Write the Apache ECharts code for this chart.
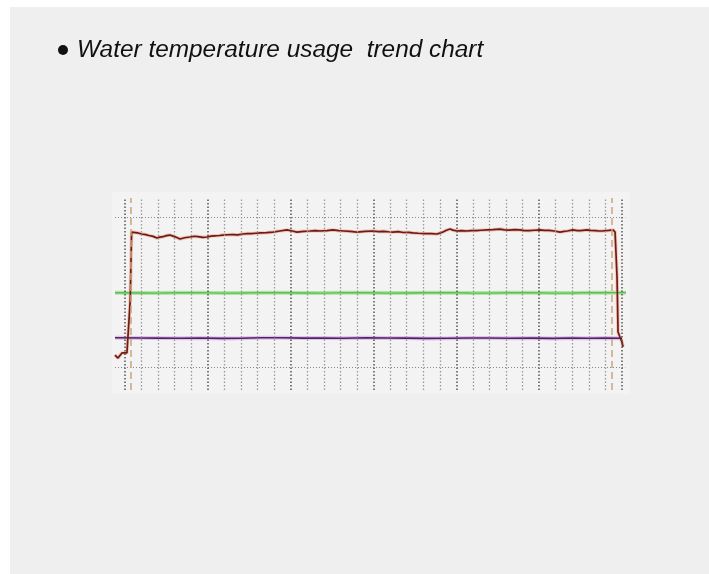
<!DOCTYPE html>
<html>
<head>
<meta charset="utf-8">
<script src="https://cdn.jsdelivr.net/npm/echarts@6/dist/echarts.min.js"></script>
<style>html,body{margin:0;padding:0;background:#fff;}#c{width:709px;height:574px;}</style>
</head>
<body>
<div id="c"></div>
<script>
// ---- data ----
var titleText = 'Water temperature usage  trend chart';
var tempX = [-0.60,-0.42,-0.18,-0.06,0.12,0.24,0.32,0.40,0.52,0.75,1.00,1.25,1.45,1.70,1.93,2.10,2.30,2.50,2.72,2.90,3.10,3.32,3.60,3.92,4.20,4.40,4.70,4.95,5.20,5.40,5.70,5.92,6.20,6.50,6.80,7.12,7.40,7.60,7.90,8.15,8.55,8.93,9.35,9.78,10.10,10.38,10.80,11.17,11.50,11.77,12.20,12.55,12.90,13.20,13.60,14.00,14.50,14.97,15.30,15.60,15.90,16.18,16.50,16.80,17.10,17.38,17.70,18.10,18.50,18.83,19.00,19.19,19.40,19.62,19.80,20.04,20.30,20.64,20.90,21.20,21.50,21.85,22.20,22.64,22.90,23.20,23.50,23.84,24.10,24.40,24.70,25.05,25.30,25.60,25.90,26.26,26.50,26.70,27.04,27.30,27.50,27.89,28.10,28.40,28.60,28.85,29.00,29.20,29.46,29.58,29.70,29.76,29.90,30.00,30.06];
var tempY = [8.3,6.3,9.7,10.3,9.7,10.3,45,90.3,90.6,89.8,89.0,88.6,88.0,87.4,86.3,86.9,87.2,87.9,88.3,87.6,86.8,85.7,86.5,87.0,87.5,87.3,86.8,87.0,87.6,87.8,88.0,88.3,88.5,88.6,88.4,89.0,89.3,89.2,89.5,89.7,89.9,90.3,91.0,91.7,91.0,90.3,90.8,91.0,91.3,91.0,91.3,91.7,91.2,91.0,90.7,90.3,90.8,91.0,90.6,90.8,90.5,90.3,90.6,90.0,90.1,89.7,89.5,89.3,89.2,89.0,89.6,90.3,91.5,92.3,91.6,91.0,91.2,91.0,91.3,91.3,91.5,91.7,91.9,92.3,91.8,91.6,91.9,91.7,91.3,91.2,91.5,91.7,91.4,91.4,91.0,90.3,90.7,91.0,91.7,91.3,91.2,91.7,91.4,91.2,91.0,91.0,91.2,91.4,91.7,90.3,60,23.7,19.5,17.0,13.7];
var flowX = [-0.60,1.0,2.0,3.3,4.5,5.8,7.0,8.2,9.5,10.8,12.0,13.2,14.5,15.8,17.0,18.2,19.5,20.8,22.0,23.2,24.5,25.8,27.0,28.0,29.0,30.24];
var flowY = [49.8,49.7,49.6,49.8,49.9,49.6,49.7,49.9,49.8,49.7,49.6,49.9,49.8,49.6,49.7,49.8,49.9,49.7,49.6,49.8,49.8,49.6,49.7,49.9,49.8,49.9];
var pressX = [-0.60,1.0,2.0,3.3,4.5,5.8,7.0,8.2,9.5,10.8,12.0,13.2,14.5,15.8,17.0,18.2,19.5,20.8,22.0,23.2,24.5,25.8,27.0,28.0,29.0,30.00];
var pressY = [19.8,19.7,19.6,19.5,19.7,19.4,19.5,19.8,19.8,19.6,19.7,19.5,19.8,19.7,19.6,19.4,19.5,19.7,19.7,19.5,19.6,19.4,19.7,19.5,19.6,19.5];
var hGridY = [0, 100];
var hGridX = [-0.6, 30.2];
var vGridMajor = [0, 5, 10, 15, 20, 25, 30];
var vGridMinor = [1,2,3,4,6,7,8,9,11,12,13,14,16,17,18,19,21,22,23,24,26,27,28,29];
var markerX = [0.36, 29.4];

function pairs(xs, ys){ return xs.map(function(x,i){ return [x, ys[i]]; }); }

var chart = echarts.init(document.getElementById('c'));
var series = [];
hGridY.forEach(function(v){
  series.push({type:'line', data: hGridX.map(function(x){return [x, v];}), symbol:'none', silent:true,
    lineStyle:{color:'#8a8a8a', width:1, type:[1,2]}, z:1});
});
function vLines(xs, color, w, dash){
  series.push({type:'line', data:[], symbol:'none', silent:true,
    markLine:{symbol:'none', silent:true, label:{show:false}, animation:false,
      lineStyle:{color:color, width:w, type:dash},
      data: xs.map(function(x){return {xAxis:x};})}});
}
vLines(vGridMinor, '#9a9a9a', 1.3, [1.5,2]);
vLines(vGridMajor, '#555555', 1.5, [1.5,2]);
vLines(markerX, '#c9a77a', 1.5, [7,4]);
function glowLine(xs, ys, dark, light, w, dw){
  series.push({type:'line', data:pairs(xs,ys), symbol:'none', silent:true,
    lineStyle:{color:light, width:w}, z:3});
  series.push({type:'line', data:pairs(xs,ys), symbol:'none', silent:true,
    lineStyle:{color:dark, width:dw}, z:4});
}
glowLine(flowX, flowY, '#5cbc52', '#aee6a4', 4, 1.4);
glowLine(pressX, pressY, '#40286c', '#ebbce6', 4, 1.6);
glowLine(tempX, tempY, '#6e1a16', '#f2c4b6', 3.5, 1.7);

chart.setOption({
  animation:false,
  backgroundColor:'#ffffff',
  graphic:[
    {type:'rect', shape:{x:10, y:7, width:699, height:567}, style:{fill:'#efefef'}, z:-10},
    {type:'rect', shape:{x:112, y:192, width:518, height:202}, style:{fill:'#f3f3f3'}, z:-9},
    {type:'circle', shape:{cx:63, cy:50, r:5}, style:{fill:'#111'}},
    {type:'text', x:77, y:50, style:{text:titleText, font:'italic 24.4px "Liberation Sans", Arial, sans-serif', fill:'#111', textVerticalAlign:'middle'}}
  ],
  grid:{left:115, right:83, top:198, bottom:184},
  xAxis:{type:'value', min:-0.6, max:30.24,
    axisLine:{show:false}, axisTick:{show:false}, axisLabel:{show:false}, splitLine:{show:false}},
  yAxis:{type:'value', min:-15, max:113,
    axisLine:{show:false}, axisTick:{show:false}, axisLabel:{show:false}, splitLine:{show:false}},
  series: series
});
</script>
</body>
</html>
